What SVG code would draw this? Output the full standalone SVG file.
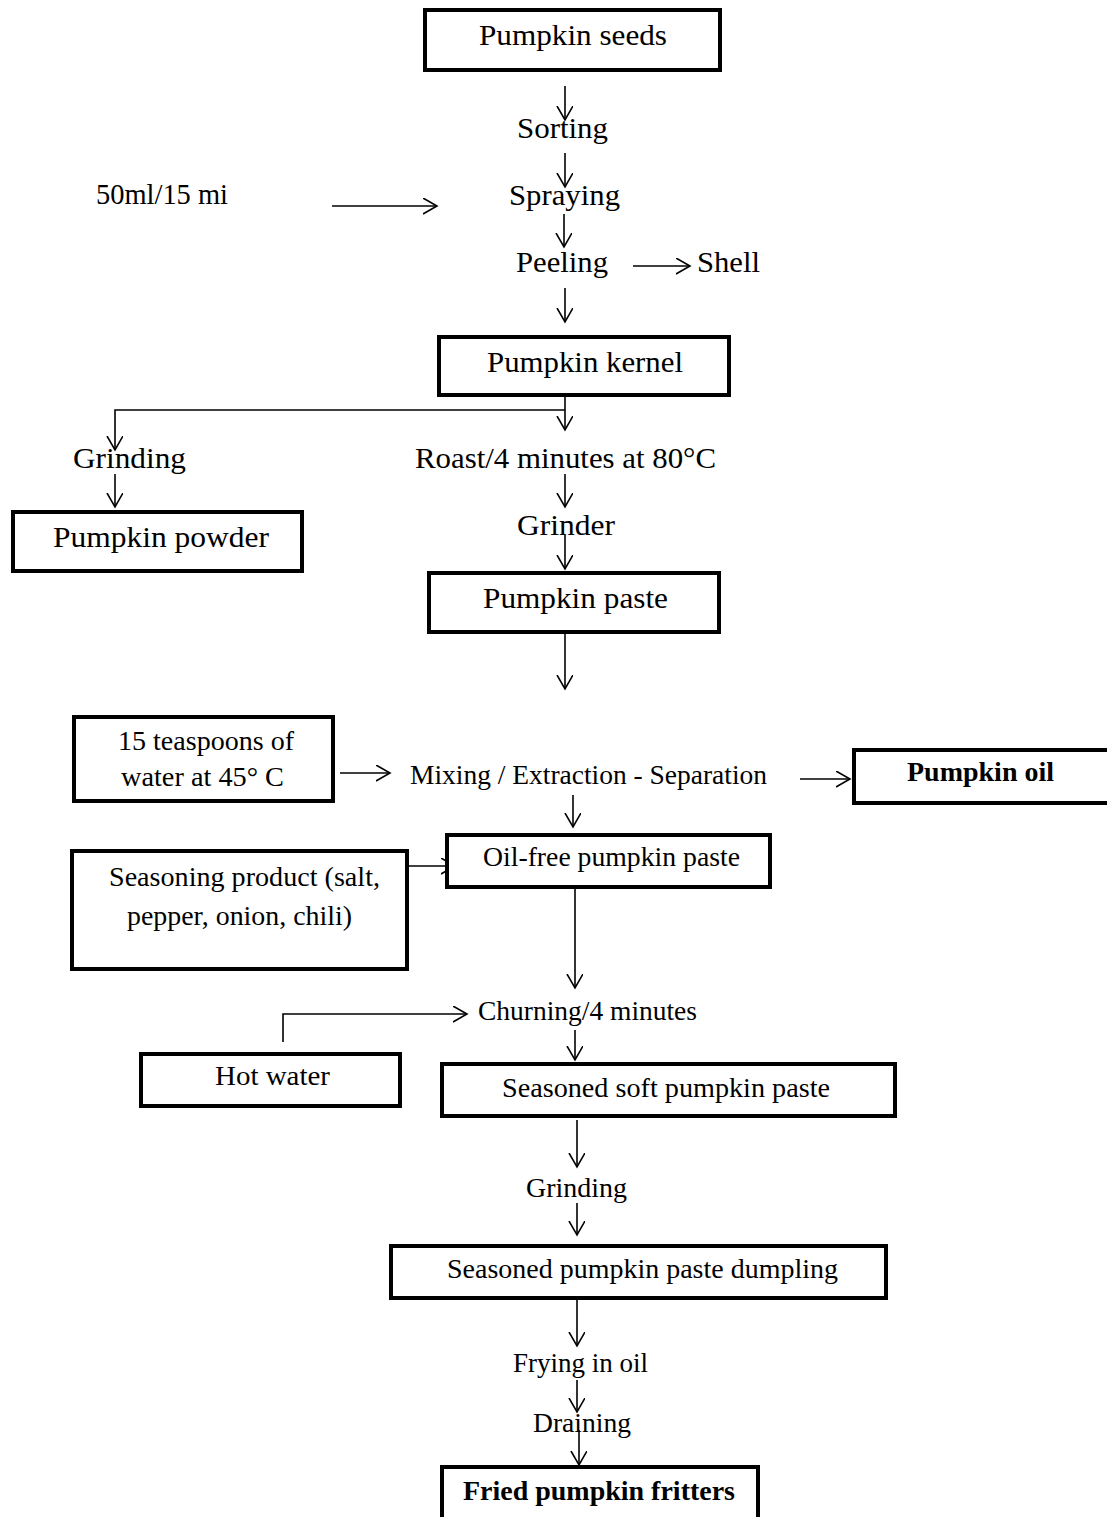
<svg xmlns="http://www.w3.org/2000/svg" width="1107" height="1517" viewBox="0 0 1107 1517">
<style>
.box{fill:#fff;stroke:#000;stroke-width:4}
.t{font-family:"Liberation Serif","Times New Roman",serif;font-size:30px;fill:#000}
.s{font-size:27px}
.b{font-weight:bold}
.c{fill:none;stroke:#000;stroke-width:1.6}
</style>
<defs>
<marker id="ah" markerUnits="userSpaceOnUse" markerWidth="20" markerHeight="20" refX="14" refY="8" orient="auto" viewBox="0 0 20 20">
<path d="M0,0 L14,8 L0,16" fill="none" stroke="#000" stroke-width="1.6"/>
</marker>
</defs>
<rect width="1107" height="1517" fill="#fff"/>
<g id="connectors">
<line class="c" x1="565" y1="86" x2="565" y2="120" marker-end="url(#ah)"/>
<line class="c" x1="565" y1="153" x2="565" y2="187" marker-end="url(#ah)"/>
<line class="c" x1="332" y1="206" x2="437" y2="206" marker-end="url(#ah)"/>
<line class="c" x1="564" y1="214" x2="564" y2="247" marker-end="url(#ah)"/>
<line class="c" x1="633" y1="266" x2="690" y2="266" marker-end="url(#ah)"/>
<line class="c" x1="565" y1="288" x2="565" y2="322" marker-end="url(#ah)"/>
<line class="c" x1="565" y1="397" x2="565" y2="430" marker-end="url(#ah)"/>
<polyline class="c" points="565,410 115,410 115,450" marker-end="url(#ah)"/>
<line class="c" x1="115" y1="474" x2="115" y2="507" marker-end="url(#ah)"/>
<line class="c" x1="565" y1="474" x2="565" y2="507" marker-end="url(#ah)"/>
<line class="c" x1="565" y1="535" x2="565" y2="569" marker-end="url(#ah)"/>
<line class="c" x1="565" y1="634" x2="565" y2="689" marker-end="url(#ah)"/>
<line class="c" x1="340" y1="773" x2="390" y2="773" marker-end="url(#ah)"/>
<line class="c" x1="800" y1="779" x2="850" y2="779" marker-end="url(#ah)"/>
<line class="c" x1="573" y1="795" x2="573" y2="827" marker-end="url(#ah)"/>
<line class="c" x1="409" y1="866" x2="455" y2="866" marker-end="url(#ah)"/>
<line class="c" x1="575" y1="889" x2="575" y2="988" marker-end="url(#ah)"/>
<polyline class="c" points="283,1042 283,1014 467,1014" marker-end="url(#ah)"/>
<line class="c" x1="575" y1="1030" x2="575" y2="1060" marker-end="url(#ah)"/>
<line class="c" x1="577" y1="1120" x2="577" y2="1167" marker-end="url(#ah)"/>
<line class="c" x1="577" y1="1203" x2="577" y2="1235" marker-end="url(#ah)"/>
<line class="c" x1="577" y1="1300" x2="577" y2="1346" marker-end="url(#ah)"/>
<line class="c" x1="577" y1="1380" x2="577" y2="1412" marker-end="url(#ah)"/>
<line class="c" x1="579" y1="1430" x2="579" y2="1465" marker-end="url(#ah)"/>
</g>
<g id="pumpkin-seeds"><rect class="box" x="425" y="10" width="295" height="60"/><text class="t" x="479" y="45" textLength="188" lengthAdjust="spacingAndGlyphs">Pumpkin seeds</text></g>
<g id="sorting"><text class="t" x="517" y="138" textLength="91" lengthAdjust="spacingAndGlyphs">Sorting</text></g>
<g id="spraying"><text class="t" x="509" y="205" textLength="111" lengthAdjust="spacingAndGlyphs">Spraying</text></g>
<g id="dose"><text class="t" x="96" y="204" textLength="132" lengthAdjust="spacingAndGlyphs">50ml/15 mi</text></g>
<g id="peeling"><text class="t" x="516" y="272" textLength="92" lengthAdjust="spacingAndGlyphs">Peeling</text></g>
<g id="shell"><text class="t" x="697" y="272" textLength="63" lengthAdjust="spacingAndGlyphs">Shell</text></g>
<g id="pumpkin-kernel"><rect class="box" x="439" y="337" width="290" height="58"/><text class="t" x="487" y="372" textLength="196" lengthAdjust="spacingAndGlyphs">Pumpkin kernel</text></g>
<g id="grinding-1"><text class="t" x="73" y="468" textLength="113" lengthAdjust="spacingAndGlyphs">Grinding</text></g>
<g id="roast"><text class="t" x="415" y="468" textLength="301" lengthAdjust="spacingAndGlyphs">Roast/4 minutes at 80°C</text></g>
<g id="pumpkin-powder"><rect class="box" x="13" y="512" width="289" height="59"/><text class="t" x="53" y="547" textLength="216" lengthAdjust="spacingAndGlyphs">Pumpkin powder</text></g>
<g id="grinder"><text class="t" x="517" y="535" textLength="98" lengthAdjust="spacingAndGlyphs">Grinder</text></g>
<g id="pumpkin-paste"><rect class="box" x="429" y="573" width="290" height="59"/><text class="t" x="483" y="608" textLength="185" lengthAdjust="spacingAndGlyphs">Pumpkin paste</text></g>
<g id="water-45"><rect class="box" x="74" y="717" width="259" height="84"/><text class="t s" x="118" y="750" textLength="176" lengthAdjust="spacingAndGlyphs">15 teaspoons of</text><text class="t s" x="121" y="786" textLength="163" lengthAdjust="spacingAndGlyphs">water at 45° C</text></g>
<g id="mixing"><text class="t s" x="410" y="784" textLength="357" lengthAdjust="spacingAndGlyphs">Mixing / Extraction - Separation</text></g>
<g id="pumpkin-oil"><rect class="box" x="854" y="750" width="260" height="53"/><text class="t s b" x="907" y="781" textLength="147" lengthAdjust="spacingAndGlyphs">Pumpkin oil</text></g>
<g id="oil-free-paste"><rect class="box" x="447" y="835" width="323" height="52"/><text class="t s" x="483" y="866" textLength="257" lengthAdjust="spacingAndGlyphs">Oil-free pumpkin paste</text></g>
<g id="seasoning"><rect class="box" x="72" y="851" width="335" height="118"/><text class="t s" x="109" y="886" textLength="271" lengthAdjust="spacingAndGlyphs">Seasoning product (salt,</text><text class="t s" x="127" y="925" textLength="225" lengthAdjust="spacingAndGlyphs">pepper, onion, chili)</text></g>
<g id="churning"><text class="t s" x="478" y="1020" textLength="219" lengthAdjust="spacingAndGlyphs">Churning/4 minutes</text></g>
<g id="hot-water"><rect class="box" x="141" y="1054" width="259" height="52"/><text class="t s" x="215" y="1085" textLength="115" lengthAdjust="spacingAndGlyphs">Hot water</text></g>
<g id="seasoned-soft-paste"><rect class="box" x="442" y="1064" width="453" height="52"/><text class="t s" x="502" y="1097" textLength="328" lengthAdjust="spacingAndGlyphs">Seasoned soft pumpkin paste</text></g>
<g id="grinding-2"><text class="t s" x="526" y="1197" textLength="101" lengthAdjust="spacingAndGlyphs">Grinding</text></g>
<g id="dumpling"><rect class="box" x="391" y="1246" width="495" height="52"/><text class="t s" x="447" y="1278" textLength="391" lengthAdjust="spacingAndGlyphs">Seasoned pumpkin paste dumpling</text></g>
<g id="frying"><text class="t s" x="513" y="1372" textLength="135" lengthAdjust="spacingAndGlyphs">Frying in oil</text></g>
<g id="draining"><text class="t s" x="533" y="1432" textLength="98" lengthAdjust="spacingAndGlyphs">Draining</text></g>
<g id="fritters"><rect class="box" x="442" y="1467" width="316" height="60"/><text class="t s b" x="463" y="1500" textLength="272" lengthAdjust="spacingAndGlyphs">Fried pumpkin fritters</text></g>
</svg>
